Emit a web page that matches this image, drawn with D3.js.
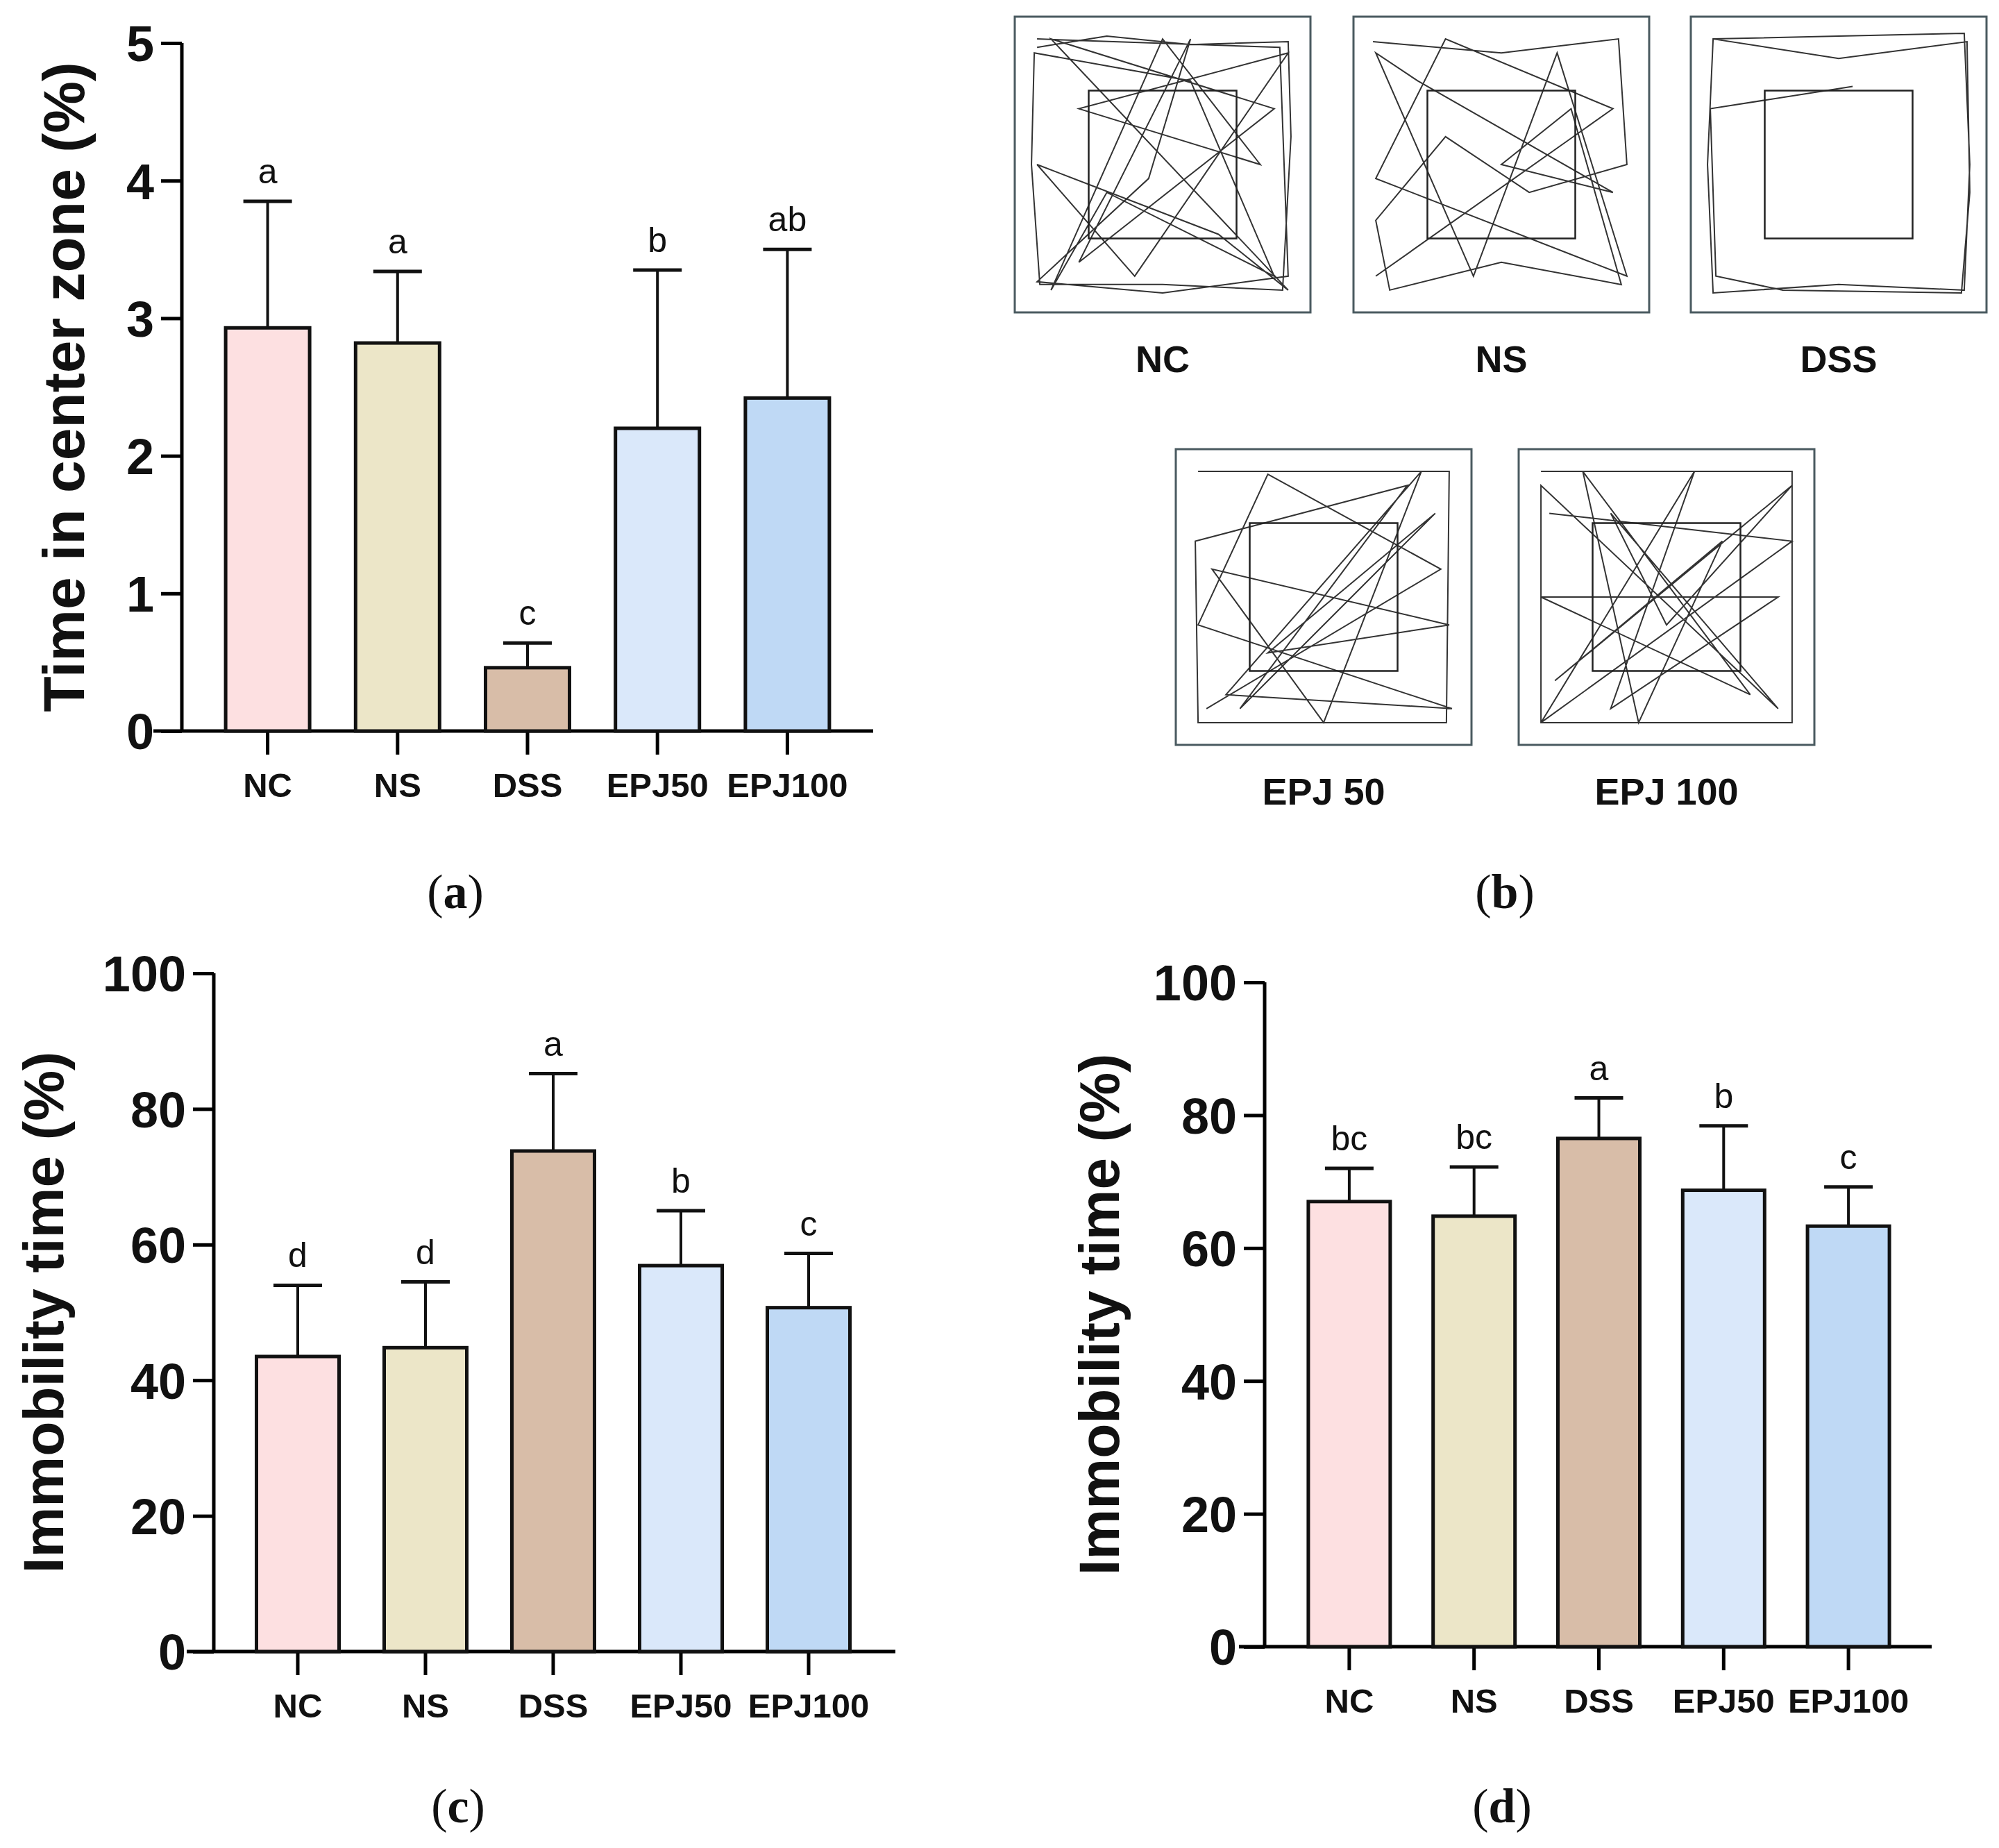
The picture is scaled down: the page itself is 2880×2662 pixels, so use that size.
<!DOCTYPE html>
<html><head><meta charset="utf-8">
<script src="https://cdn.jsdelivr.net/npm/d3@7"></script>
<style>body{margin:0;background:#fff}</style></head>
<body><svg id="c" width="2880" height="2662"></svg>
<script>
const categories = ["NC","NS","DSS","EPJ50","EPJ100"];
const colors = ["#fde0e1","#ece6c8","#d8bda8","#dae8fa","#bfd9f5"];
// Panel a
const centerMean = [2.93,2.82,0.46,2.20,2.42];
const centerErr  = [3.85,3.34,0.64,3.35,3.50];
const centerSig  = ["a","a","c","b","ab"];
const centerTicks = [0,1,2,3,4,5];
// Panel c
const immC = [43.5,44.8,73.8,56.9,50.7];
const immCErr = [54.0,54.5,85.2,65.0,58.7];
const immCSig = ["d","d","a","b","c"];
// Panel d
const immD = [67.0,64.8,76.5,68.7,63.3];
const immDErr = [72.0,72.2,82.6,78.4,69.2];
const immDSig = ["bc","bc","a","b","c"];
const immTicks = [0,20,40,60,80,100];
// Panel b arena labels & illustrative tracks (normalized 0..1)
const arenaLabels = ["NC","NS","DSS","EPJ 50","EPJ 100"];
const trackNC = [[.05,.08],[.3,.04],[.6,.07],[.95,.06],[.96,.4],[.93,.95],[.5,.93],[.06,.93],[.03,.5],[.04,.1],[.6,.2],[.9,.9],[.3,.6],[.1,.95],[.5,.05],[.85,.5],[.2,.3],[.95,.1],[.4,.9],[.05,.5],[.7,.75],[.95,.95],[.1,.05],[.9,.3],[.2,.85],[.6,.05],[.45,.55],[.05,.92],[.5,.96],[.95,.9],[.92,.08],[.05,.05]];
const trackNS = [[.04,.06],[.5,.1],[.92,.05],[.95,.5],[.6,.6],[.3,.4],[.05,.7],[.1,.95],[.5,.85],[.93,.93],[.75,.3],[.5,.5],[.9,.6],[.2,.2],[.05,.1],[.4,.9],[.7,.1],[.95,.9],[.05,.55],[.3,.05],[.9,.3],[.05,.9]];
const trackDSS = [[.05,.05],[.5,.04],[.95,.03],[.97,.5],[.95,.95],[.5,.93],[.05,.96],[.03,.5],[.05,.05],[.5,.12],[.96,.06],[.97,.6],[.94,.96],[.3,.95],[.06,.9],[.04,.3],[.55,.22]];
const trackE50 = [[.05,.05],[.95,.05],[.94,.95],[.05,.95],[.04,.3],[.8,.1],[.2,.9],[.6,.5],[.9,.2],[.3,.7],[.95,.6],[.1,.4],[.5,.95],[.85,.05],[.15,.85],[.96,.9],[.05,.6],[.3,.06],[.92,.4],[.08,.9]];
const trackE100 = [[.05,.05],[.95,.05],[.95,.95],[.05,.95],[.05,.1],[.9,.9],[.3,.2],[.5,.6],[.95,.1],[.1,.8],[.7,.3],[.4,.95],[.2,.05],[.8,.85],[.05,.5],[.9,.5],[.3,.9],[.6,.05],[.05,.95],[.95,.3],[.08,.2]];
const tracks = [trackNC,trackNS,trackDSS,trackE50,trackE100];

const svg = d3.select("#c");
const F = "Arial, 'Liberation Sans', sans-serif";

function barPanel(o){
  const g = svg.append("g");
  const x = d3.scaleBand().domain(categories).range([o.x0,o.x1]).paddingInner(o.pad).paddingOuter(o.pad/2);
  const y = d3.scaleLinear().domain([0,o.max]).range([o.yb,o.yt]);
  const xa = g.append("g").attr("transform",`translate(0,${o.yb})`)
    .call(d3.axisBottom(x).tickSize(34).tickPadding(26));
  xa.select(".domain").attr("d",`M${o.ax0},0H${o.ax1}`);
  const ya = g.append("g").attr("transform",`translate(${o.ax},0)`)
    .call(d3.axisLeft(y).tickValues(o.ticks).tickFormat(d3.format("d")).tickSize(30).tickPadding(10));
  ya.select(".domain").attr("d",`M0,${o.yt}V${o.yb}`);
  [xa,ya].forEach(a=>{a.selectAll("line,path").attr("stroke","#000").attr("stroke-width",5);});
  xa.selectAll("text").attr("font-family",F).attr("font-weight","bold").attr("font-size",49).attr("fill","#111");
  ya.selectAll("text").attr("font-family",F).attr("font-weight","900").attr("font-size",72).attr("fill","#111").attr("dy","0.36em");
  const bw = o.bw;
  categories.forEach((c,i)=>{
    const cx = x(c)+x.bandwidth()/2;
    g.append("line").attr("x1",cx).attr("x2",cx).attr("y1",y(o.mean[i])).attr("y2",y(o.err[i])).attr("stroke","#111").attr("stroke-width",4);
    g.append("line").attr("x1",cx-35).attr("x2",cx+35).attr("y1",y(o.err[i])).attr("y2",y(o.err[i])).attr("stroke","#111").attr("stroke-width",5);
    g.append("rect").attr("x",cx-bw/2).attr("width",bw).attr("y",y(o.mean[i])).attr("height",o.yb-y(o.mean[i]))
      .attr("fill",colors[i]).attr("stroke","#111").attr("stroke-width",5);
    g.append("text").attr("x",cx).attr("y",y(o.err[i])-26).attr("text-anchor","middle")
      .attr("font-family",F).attr("font-size",50).attr("fill","#111").text(o.sig[i]);
  });
  g.append("text").attr("transform",`translate(${o.tx},${(o.yt+o.yb)/2}) rotate(-90)`).attr("text-anchor","middle")
    .attr("dy","0.35em").attr("font-family",F).attr("font-weight","bold").attr("font-size",o.yfs).attr("fill","#111").text(o.title);
  svg.append("text").attr("x",o.lx).attr("y",o.ly).attr("text-anchor","middle").attr("font-family","'Liberation Serif', serif")
    .attr("font-size",70).attr("fill","#111").html(o.lab);
}

barPanel({x0:292,x1:1228,pad:0.35,bw:121,ax:262,ax0:221,ax1:1258,yb:1053,yt:62,max:5,ticks:centerTicks,
  mean:centerMean,err:centerErr,sig:centerSig,yfs:84,tx:92,title:"Time in center zone (%)",
  lx:656,ly:1308,lab:"(<tspan font-weight='bold'>a</tspan>)"});
barPanel({x0:337,x1:1257,pad:0.35,bw:119,ax:308,ax0:269,ax1:1290,yb:2379,yt:1402,max:100,ticks:immTicks,
  mean:immC,err:immCErr,sig:immCSig,yfs:82,tx:62,title:"Immobility time (%)",
  lx:660,ly:2625,lab:"(<tspan font-weight='bold'>c</tspan>)"});
barPanel({x0:1854,x1:2753,pad:0.35,bw:118,ax:1822,ax0:1785,ax1:2783,yb:2372,yt:1415,max:100,ticks:immTicks,
  mean:immD,err:immDErr,sig:immDSig,yfs:82,tx:1583,title:"Immobility time (%)",
  lx:2164,ly:2625,lab:"(<tspan font-weight='bold'>d</tspan>)"});

// Panel b arenas
const arenas = [[1462,24],[1950,24],[2436,24],[1694,647],[2188,647]];
const aw=426, ah=426;
arenas.forEach((a,i)=>{
  const g = svg.append("g").attr("transform",`translate(${a[0]},${a[1]})`);
  const sx = d3.scaleLinear().domain([0,1]).range([12,aw-12]);
  const sy = d3.scaleLinear().domain([0,1]).range([12,ah-12]);
  g.append("rect").attr("width",aw).attr("height",ah).attr("fill","#fff").attr("stroke","#4a5a60").attr("stroke-width",3);
  g.append("path").attr("d",d3.line().x(d=>sx(d[0])).y(d=>sy(d[1])).curve(d3.curveLinear)(tracks[i]))
    .attr("fill","none").attr("stroke","#333").attr("stroke-width",2);
  g.append("rect").attr("x",aw*0.25).attr("y",ah*0.25).attr("width",aw*0.5).attr("height",ah*0.5)
    .attr("fill","none").attr("stroke","#222").attr("stroke-width",2.5);
  g.append("text").attr("x",aw/2).attr("y",ah+86).attr("text-anchor","middle").attr("font-family",F)
    .attr("font-weight","bold").attr("font-size",54).attr("fill","#111").text(arenaLabels[i]);
});
svg.append("text").attr("x",2168).attr("y",1308).attr("text-anchor","middle").attr("font-family","'Liberation Serif', serif")
  .attr("font-size",70).attr("fill","#111").html("(<tspan font-weight='bold'>b</tspan>)");
</script></body></html>
